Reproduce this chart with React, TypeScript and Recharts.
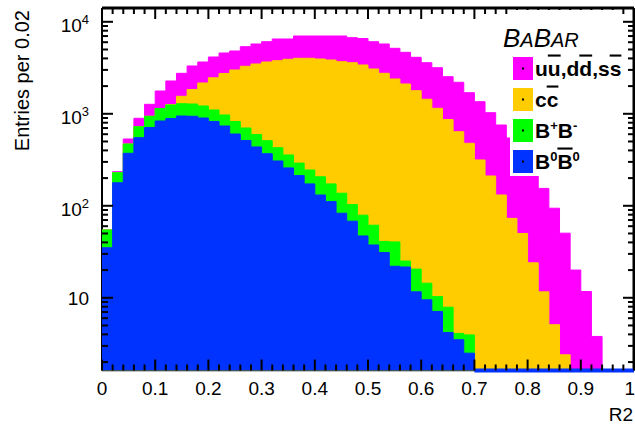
import React from 'react';
import { AreaChart, Area, XAxis, YAxis, ReferenceLine } from 'recharts';

const FONT = '"Liberation Sans", Arial, Helvetica, sans-serif';

// R2 bins of width 0.02 (lower edges 0.00 ... 0.98)
const BIN_WIDTH = 0.02;

// entries per bin (log scale)
const B0B0 = [
  35, 178, 372, 550, 710, 835, 889, 946, 940, 900, 825, 737, 603, 513, 436, 368, 307, 258, 213, 173,
  131, 111, 83, 68, 47, 37.5, 31, 22, 21.6, 11.6, 9.5, 7.1, 4.2, 3.5, 2.5, 0, 0, 0, 0, 0,
  0, 0, 0, 0, 0, 0, 0, 0, 0, 0,
];
const BPBM = [
  19.6, 51, 97, 174, 229, 306, 357, 341, 338, 316, 275, 234, 222, 188, 160, 142, 121, 99, 78, 72,
  76, 62, 54, 35, 32, 24, 10, 18.5, 3.5, 8.9, 4.9, 3.2, 3.7, 0.6, 1.45, 0, 0, 0, 0, 0,
  0, 0, 0, 0, 0, 0, 0, 0, 0, 0,
];
const CCBAR = [
  0, 0, 0, 0, 0, 0, 15, 262, 559, 946, 1362, 1771, 2168, 2583, 2882, 3146, 3350, 3555, 3719, 3766,
  3734, 3670, 3547, 3489, 3313, 3007, 2714, 2349, 2084, 1762, 1424, 1137, 859, 635, 474, 315, 211, 131, 73, 50,
  24, 11.6, 5.1, 2.4, 0, 0, 0, 0, 0, 0,
];
const UDS = [
  0, 5.8, 63, 169, 329, 628, 1012, 1205, 1471, 1495, 1682, 1839, 1822, 2078, 2261, 2422, 2724, 2590, 2999, 2999,
  3069, 3167, 3326, 3125, 3193, 3009, 2984, 2762, 2552, 2330, 2155, 2024, 1664, 1561, 1218, 1038, 817, 624, 473, 354,
  253, 143, 89, 48, 20, 11.7, 3.8, 0, 0, 0,
];

const X_MAJOR = [0, 0.1, 0.2, 0.3, 0.4, 0.5, 0.6, 0.7, 0.8, 0.9, 1];
const X_LABELS = ['0', '0.1', '0.2', '0.3', '0.4', '0.5', '0.6', '0.7', '0.8', '0.9', '1'];
const Y_MAJOR = [10, 100, 1000, 10000];
const Y_LABELS = [
  { base: '10', exp: '' },
  { base: '10', exp: '2' },
  { base: '10', exp: '3' },
  { base: '10', exp: '4' },
];
const MINOR_STEPS = [2, 3, 4, 5, 6, 7, 8, 9];

const COLORS = { uds: '#ff00ff', cc: '#ffcc00', bp: '#00ff00', b0: '#0033ff' };

const Y_MIN = 1.62;
const Y_MAX = 14125;

const W = 635;
const H = 425;
const PLOT_LEFT = 102;
const PLOT_RIGHT = 634;
const PLOT_TOP = 8;
const PLOT_BOTTOM = 370.5;

// stacked histogram: running sums, clamped at the bottom of the log axis
const clamp = (v: number) => Math.max(v, Y_MIN);
const rows = Array.from({ length: B0B0.length + 1 }, (_, k) => {
  const i = Math.min(k, B0B0.length - 1);
  const b0 = B0B0[i];
  const bp = b0 + BPBM[i];
  const cc = bp + CCBAR[i];
  const tot = cc + UDS[i];
  return { x: +(k * BIN_WIDTH).toFixed(2), b0: clamp(b0), bp: clamp(bp), cc: clamp(cc), tot: clamp(tot) };
});

// the B0 histogram keeps drawing its (empty) outline along the bottom after its last filled bin
let lastB0 = 0;
B0B0.forEach((v, i) => {
  if (v > 0) lastB0 = i;
});
const B0_EMPTY_FROM = +((lastB0 + 1) * BIN_WIDTH).toFixed(2);

const X_TICKS = rows.map((r) => r.x);
const Y_TICKS = [
  ...[1, 10, 100, 1000].flatMap((d) => MINOR_STEPS.map((m) => m * d)),
  ...Y_MAJOR,
].sort((a, b) => a - b);

const isXMajor = (v: number) => X_MAJOR.some((m) => Math.abs(m - v) < 1e-6);

const BottomTick = (props: any) => {
  const { x, payload } = props;
  const idx = X_MAJOR.findIndex((m) => Math.abs(m - payload.value) < 1e-6);
  const len = idx >= 0 ? 11 : 6;
  const last = idx === X_MAJOR.length - 1;
  return (
    <g>
      <line x1={x} x2={x} y1={PLOT_BOTTOM} y2={PLOT_BOTTOM - len} stroke="#000" strokeWidth={2} />
      {idx >= 0 && (
        <text
          x={last ? W : x}
          y={395}
          textAnchor={last ? 'end' : 'middle'}
          fontSize={19}
          fontFamily={FONT}
          fill="#000"
        >
          {X_LABELS[idx]}
        </text>
      )}
    </g>
  );
};

const TopTick = (props: any) => {
  const { x, payload } = props;
  const len = isXMajor(payload.value) ? 11 : 6;
  return <line x1={x} x2={x} y1={PLOT_TOP} y2={PLOT_TOP + len} stroke="#000" strokeWidth={2} />;
};

const LeftTick = (props: any) => {
  const { y, payload } = props;
  const idx = Y_MAJOR.indexOf(payload.value);
  const len = idx >= 0 ? 11 : 6;
  const lab = idx >= 0 ? Y_LABELS[idx] : null;
  return (
    <g>
      <line x1={PLOT_LEFT} x2={PLOT_LEFT + len} y1={y} y2={y} stroke="#000" strokeWidth={2} />
      {lab && (
        <text x={89} y={y + (lab.exp ? 10 : 7)} textAnchor="end" fontSize={19} fontFamily={FONT} fill="#000">
          {lab.base}
          {lab.exp && (
            <tspan dy={-8} fontSize={13}>
              {lab.exp}
            </tspan>
          )}
        </text>
      )}
    </g>
  );
};

const RightTick = (props: any) => {
  const { y, payload } = props;
  const len = Y_MAJOR.includes(payload.value) ? 11 : 6;
  return <line x1={PLOT_RIGHT} x2={PLOT_RIGHT - len} y1={y} y2={y} stroke="#000" strokeWidth={2} />;
};

const YTitle = () => (
  <text x={29} y={10} transform="rotate(-90 29 10)" textAnchor="end" fontSize={20} fontFamily={FONT} fill="#000">
    Entries per 0.02
  </text>
);

const XTitle = () => (
  <text x={633} y={421} textAnchor="end" fontSize={19} fontFamily={FONT} fill="#000">
    R2
  </text>
);

const LEGEND_ROWS = [
  { key: 'uds', color: COLORS.uds },
  { key: 'cc', color: COLORS.cc },
  { key: 'bp', color: COLORS.bp },
  { key: 'b0', color: COLORS.b0 },
];

const bar = { textDecoration: 'overline' } as React.CSSProperties;

const rowLabel = (key: string) => {
  switch (key) {
    case 'uds':
      return (
        <>
          u<tspan style={bar}>u</tspan>,d<tspan style={bar}>d</tspan>,s<tspan style={bar}>s</tspan>
        </>
      );
    case 'cc':
      return (
        <>
          c<tspan style={bar}>c</tspan>
        </>
      );
    case 'bp':
      return (
        <>
          B<tspan dy={-8} fontSize={13}>+</tspan>
          <tspan dy={8}>B</tspan>
          <tspan dy={-8} fontSize={13}>-</tspan>
        </>
      );
    default:
      return (
        <>
          B<tspan dy={-8} fontSize={13}>0</tspan>
          <tspan dy={8} style={bar}>B</tspan>
          <tspan dy={-8} fontSize={13}>0</tspan>
        </>
      );
  }
};

// legend box drawn over the plot, as in the original (opaque white)
const LegendBox = () => (
  <svg width={125} height={168} style={{ position: 'absolute', left: 500, top: 10, display: 'block' }}>
    <rect x={10} y={0} width={111} height={166} fill="#fff" />
    <text x={3} y={37} fontFamily={FONT} fontStyle="italic" fill="#000">
      <tspan fontSize={26}>B</tspan>
      <tspan fontSize={20}>A</tspan>
      <tspan fontSize={26}>B</tspan>
      <tspan fontSize={20}>AR</tspan>
    </text>
    {LEGEND_ROWS.map((r, i) => {
      const cy = 58.5 + i * 31;
      return (
        <g key={r.key}>
          <rect x={13} y={cy - 11.5} width={20} height={23} fill={r.color} />
          <rect x={22} y={cy - 1} width={2} height={2} fill="#000" />
          <text x={35} y={cy + 7} fontSize={21} fontWeight="bold" fontFamily={FONT} fill="#000">
            {rowLabel(r.key)}
          </text>
        </g>
      );
    })}
  </svg>
);

const SERIES = [
  { key: 'tot', color: COLORS.uds },
  { key: 'cc', color: COLORS.cc },
  { key: 'bp', color: COLORS.bp },
  { key: 'b0', color: COLORS.b0 },
];

export default function App() {
  return (
    <div style={{ position: 'absolute', left: 0, top: 0, width: W, height: H, overflow: 'hidden', background: '#fff' }}>
      <AreaChart width={W} height={H} data={rows} margin={{ top: PLOT_TOP - 1, right: W - PLOT_RIGHT - 1, bottom: 0, left: 0 }}>
        <XAxis
          dataKey="x"
          type="number"
          domain={[0, 1]}
          allowDataOverflow
          ticks={X_TICKS}
          interval={0}
          height={H - PLOT_BOTTOM}
          axisLine={{ stroke: '#000', strokeWidth: 1.5 }}
          tickLine={false}
          tick={BottomTick}
          label={{ content: XTitle }}
        />
        <XAxis
          xAxisId="top"
          dataKey="x"
          orientation="top"
          type="number"
          domain={[0, 1]}
          allowDataOverflow
          ticks={X_TICKS}
          interval={0}
          height={1}
          axisLine={{ stroke: '#000', strokeWidth: 3 }}
          tickLine={false}
          tick={TopTick}
        />
        <YAxis
          type="number"
          scale="log"
          domain={[Y_MIN, Y_MAX]}
          allowDataOverflow
          ticks={Y_TICKS}
          interval={0}
          width={PLOT_LEFT}
          axisLine={{ stroke: '#000', strokeWidth: 2 }}
          tickLine={false}
          tick={LeftTick}
          label={{ content: YTitle }}
        />
        <YAxis
          yAxisId="right"
          orientation="right"
          type="number"
          scale="log"
          domain={[Y_MIN, Y_MAX]}
          allowDataOverflow
          ticks={Y_TICKS}
          interval={0}
          width={1}
          axisLine={{ stroke: '#000', strokeWidth: 3 }}
          tickLine={false}
          tick={RightTick}
        />
        {/* invisible series so the frame axes (top/right) get a domain */}
        <Area
          xAxisId="top"
          yAxisId="right"
          dataKey="tot"
          type="stepAfter"
          fill="none"
          stroke="none"
          dot={false}
          activeDot={false}
          isAnimationActive={false}
        />
        {SERIES.map((s) => (
          <Area
            key={s.key}
            type="stepAfter"
            dataKey={s.key}
            baseValue={Y_MIN}
            fill={s.color}
            fillOpacity={1}
            stroke={s.color}
            strokeWidth={1}
            dot={false}
            activeDot={false}
            isAnimationActive={false}
            zIndex={600}
          />
        ))}
        <ReferenceLine
          segment={[
            { x: B0_EMPTY_FROM, y: Y_MIN },
            { x: 1, y: Y_MIN },
          ]}
          stroke={COLORS.b0}
          strokeWidth={4}
          ifOverflow="visible"
          zIndex={700}
        />
      </AreaChart>
      <LegendBox />
    </div>
  );
}
